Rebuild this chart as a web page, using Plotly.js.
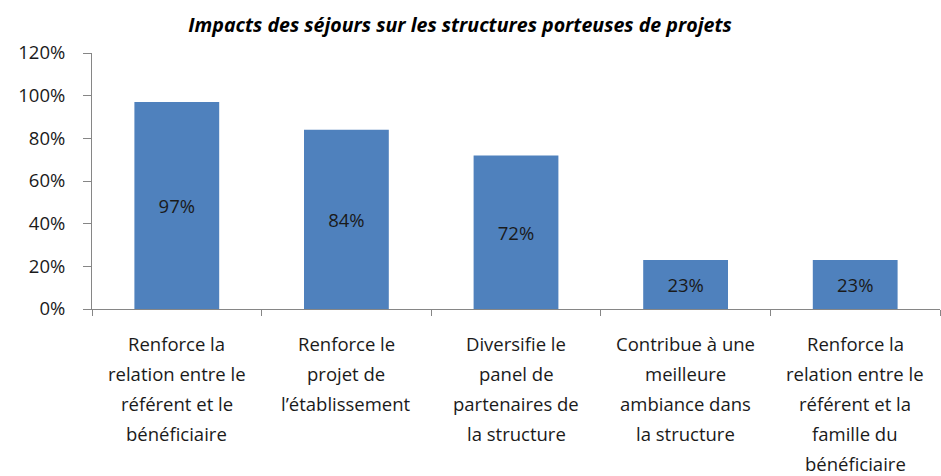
<!DOCTYPE html>
<html>
<head>
<meta charset="utf-8">
<script src="https://cdn.plot.ly/plotly-3.0.1.min.js"></script>
<style>
  html, body { margin: 0; padding: 0; background: #fff; }
  #chart { width: 941px; height: 476px; }
</style>
</head>
<body>
<div id="chart"></div>
<script>
// categories (one entry per bar, each split into its display lines)
var labelLines = [
  ["Renforce la", "relation entre le", "référent et le", "bénéficiaire"],
  ["Renforce le", "projet de", "l’établissement"],
  ["Diversifie le", "panel de", "partenaires de", "la structure"],
  ["Contribue à une", "meilleure", "ambiance dans", "la structure"],
  ["Renforce la", "relation entre le", "référent et la", "famille du", "bénéficiaire"]
];
var categories = labelLines.map(function (l) { return l.join(" "); });
var values = [0.97, 0.84, 0.72, 0.23, 0.23];
var valueLabels = ["97%", "84%", "72%", "23%", "23%"];

var bodyFont = "Open Sans, Noto Sans, sans-serif";

var trace = {
  x: categories,
  y: values,
  type: "bar",
  marker: { color: "#4F81BD" },
  text: valueLabels,
  textposition: "inside",
  insidetextanchor: "middle",
  textangle: 0,
  textfont: { family: bodyFont, size: 18.5, color: "#1a1a1a" },
  hoverinfo: "none"
};

// category labels, one annotation per line for the wide line spacing
var annotations = [];
labelLines.forEach(function (lines, i) {
  lines.forEach(function (line, j) {
    annotations.push({
      x: categories[i],
      xref: "x",
      y: 0,
      yref: "paper",
      yanchor: "middle",
      yshift: -(34 + j * 30),
      text: line,
      showarrow: false,
      font: { family: bodyFont, size: 18.5, color: "#1a1a1a" }
    });
  });
});

var layout = {
  width: 941,
  height: 476,
  margin: { l: 92, r: 1, t: 53, b: 167 },
  paper_bgcolor: "#ffffff",
  plot_bgcolor: "#ffffff",
  bargap: 0.5,
  showlegend: false,
  title: {
    text: "<b><i>Impacts des séjours sur les structures porteuses de projets</i></b>",
    font: { family: "Open Sans, sans-serif", size: 19.6, color: "#000" },
    x: 460 / 941,
    xanchor: "center",
    xref: "container",
    y: 1 - 25 / 476,
    yanchor: "middle",
    yref: "container"
  },
  xaxis: {
    type: "category",
    showticklabels: false,
    showline: true,
    linecolor: "#868686",
    linewidth: 1,
    ticks: "outside",
    tickson: "boundaries",
    ticklen: 6,
    tickcolor: "#868686",
    showgrid: false,
    zeroline: false,
    fixedrange: true
  },
  yaxis: {
    range: [0, 1.2],
    tickvals: [0, 0.2, 0.4, 0.6, 0.8, 1.0, 1.2],
    tickformat: ".0%",
    showline: true,
    linecolor: "#868686",
    linewidth: 1,
    ticks: "outside",
    ticklen: 8,
    tickcolor: "#868686",
    showgrid: false,
    zeroline: false,
    ticklabelstandoff: 14,
    tickfont: { family: bodyFont, size: 18.5, color: "#1a1a1a" },
    fixedrange: true
  },
  annotations: annotations
};

Plotly.newPlot("chart", [trace], layout, { displayModeBar: false, staticPlot: true });
</script>
</body>
</html>
